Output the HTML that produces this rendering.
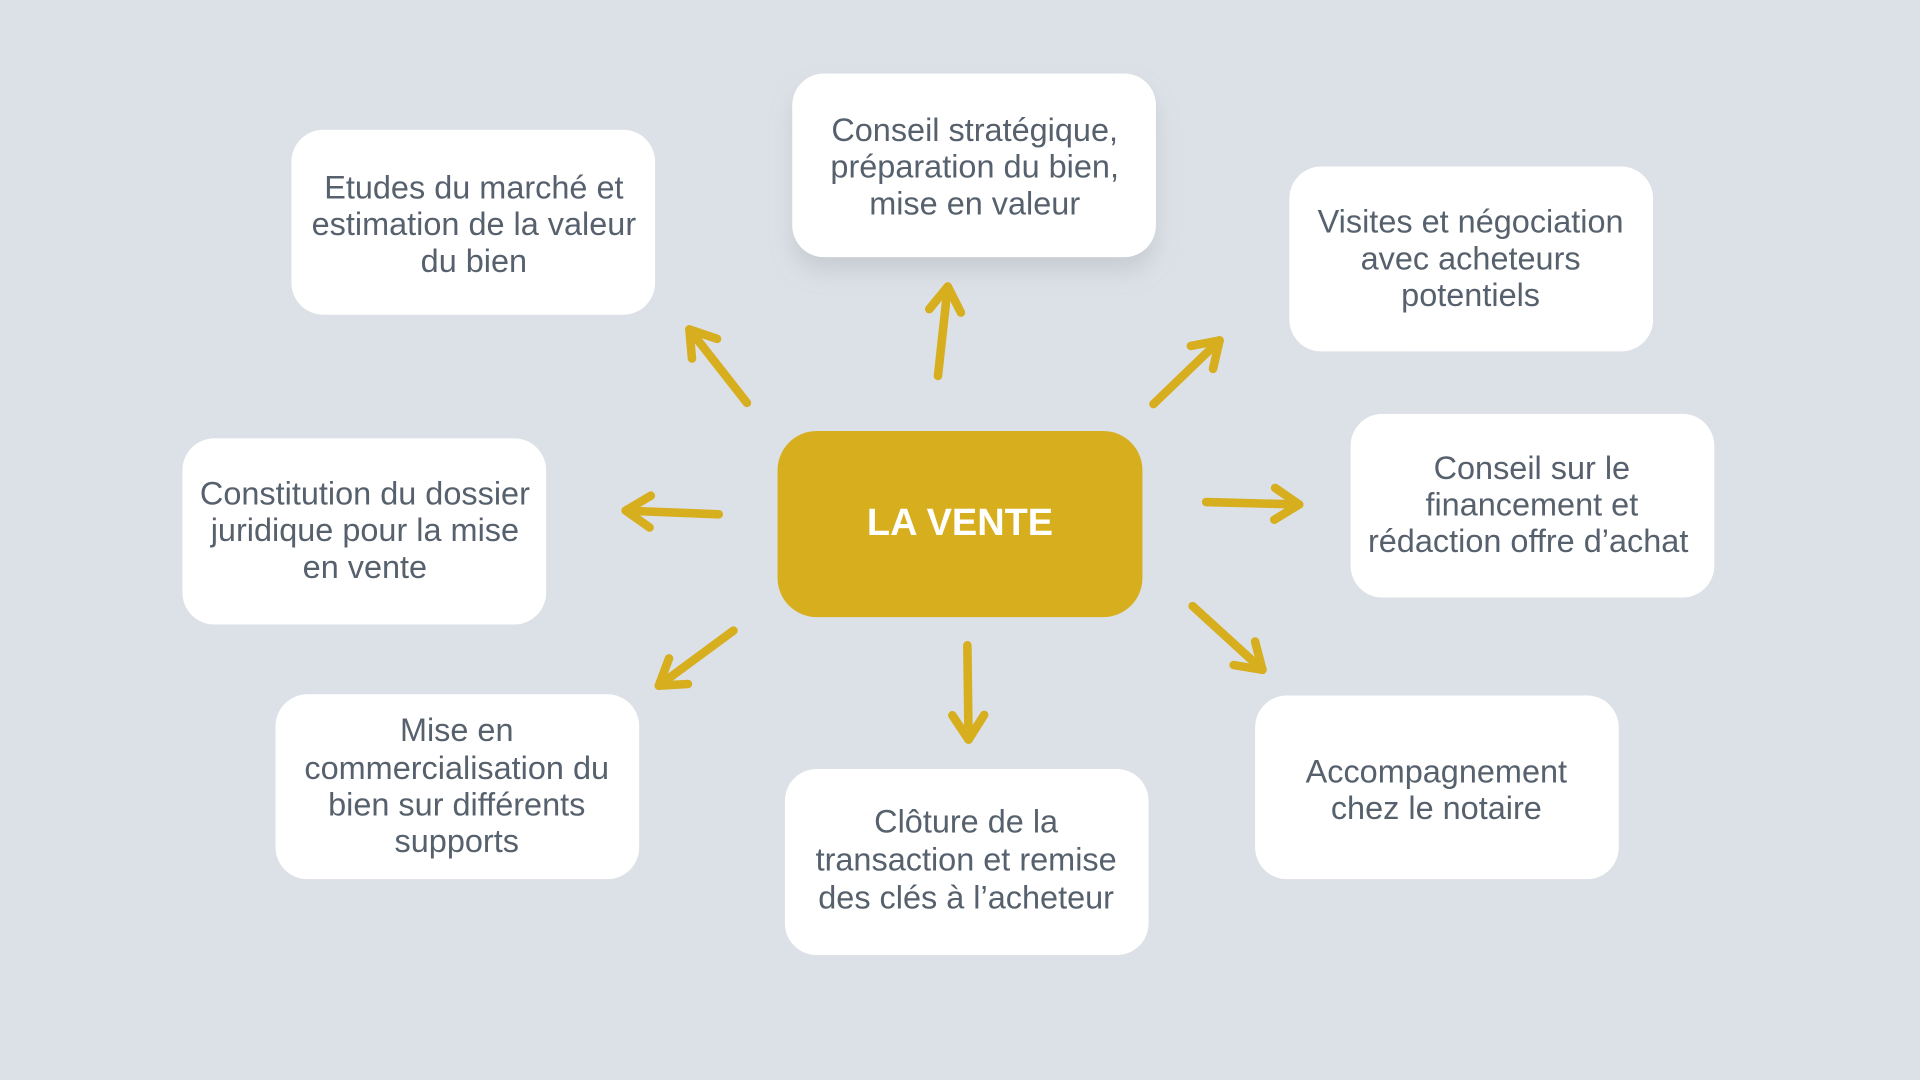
<!DOCTYPE html>
<html><head><meta charset="utf-8"><style>
html,body{margin:0;padding:0;background:#dce1e7;}
svg{display:block}
text{font-family:"Liberation Sans",sans-serif;fill:#56616d;font-size:26.5px;text-anchor:middle;dominant-baseline:central}
</style></head><body>
<svg width="1920" height="1080" viewBox="0 0 1568 882" preserveAspectRatio="none" xmlns="http://www.w3.org/2000/svg">
<defs>
<marker id="ah" markerUnits="userSpaceOnUse" markerWidth="40" markerHeight="40" refX="0" refY="0" viewBox="-30 -20 40 40" orient="auto" overflow="visible">
<path d="M-20,-13 L0,0 L-20,13" fill="none" stroke="#d7ae1e" stroke-width="7" stroke-linecap="round" stroke-linejoin="round"/>
</marker>
<filter id="sh" x="-20%" y="-20%" width="140%" height="160%"><feDropShadow dx="0" dy="12" stdDeviation="9" flood-color="#9aa0a8" flood-opacity="0.3"/></filter>
</defs>
<rect width="1568" height="882" fill="#dce1e7"/>
<g fill="#fff">
<rect x="238" y="106" width="297" height="151" rx="26"/>
<rect x="647" y="60" width="297" height="150" rx="26" filter="url(#sh)"/>
<rect x="1053" y="136" width="297" height="151" rx="26"/>
<rect x="149" y="358" width="297" height="152" rx="26"/>
<rect x="1103" y="338" width="297" height="150" rx="26"/>
<rect x="225" y="567" width="297" height="151" rx="26"/>
<rect x="641" y="628" width="297" height="152" rx="26"/>
<rect x="1025" y="568" width="297" height="150" rx="26"/>
</g>
<rect x="635" y="352" width="298" height="152" rx="32" fill="#d7ae1e"/>
<text x="784" y="427" style="fill:#fff;font-weight:bold;font-size:31px">LA VENTE</text>
<text x="387" y="153">Etudes du marché et</text><text x="387" y="183">estimation de la valeur</text><text x="387" y="213">du bien</text>
<text x="796" y="106">Conseil stratégique,</text><text x="796" y="136">préparation du bien,</text><text x="796" y="166">mise en valeur</text>
<text x="1201" y="181">Visites et négociation</text><text x="1201" y="211">avec acheteurs</text><text x="1201" y="241">potentiels</text>
<text x="298" y="403">Constitution du dossier</text><text x="298" y="433">juridique pour la mise</text><text x="298" y="463">en vente</text>
<text x="1251" y="382">Conseil sur le</text><text x="1251" y="412">financement et</text><text x="1248" y="442">rédaction offre d’achat</text>
<text x="373" y="596">Mise en</text><text x="373" y="627">commercialisation du</text><text x="373" y="657">bien sur différents</text><text x="373" y="687">supports</text>
<text x="789" y="671">Clôture de la</text><text x="789" y="702">transaction et remise</text><text x="789" y="733">des clés à l’acheteur</text>
<text x="1173" y="630">Accompagnement</text><text x="1173" y="660">chez le notaire</text>
<g stroke="#d7ae1e" stroke-width="7" stroke-linecap="round" fill="none" marker-end="url(#ah)">
<line x1="610" y1="329" x2="563" y2="269"/>
<line x1="766" y1="307" x2="774" y2="234"/>
<line x1="942" y1="330" x2="996" y2="278"/>
<line x1="587" y1="420" x2="511" y2="417"/>
<line x1="985" y1="410" x2="1061" y2="412"/>
<line x1="599" y1="515" x2="538" y2="560"/>
<line x1="790" y1="527" x2="791" y2="604"/>
<line x1="974" y1="495" x2="1031" y2="547"/>
</g>
</svg>
</body></html>
